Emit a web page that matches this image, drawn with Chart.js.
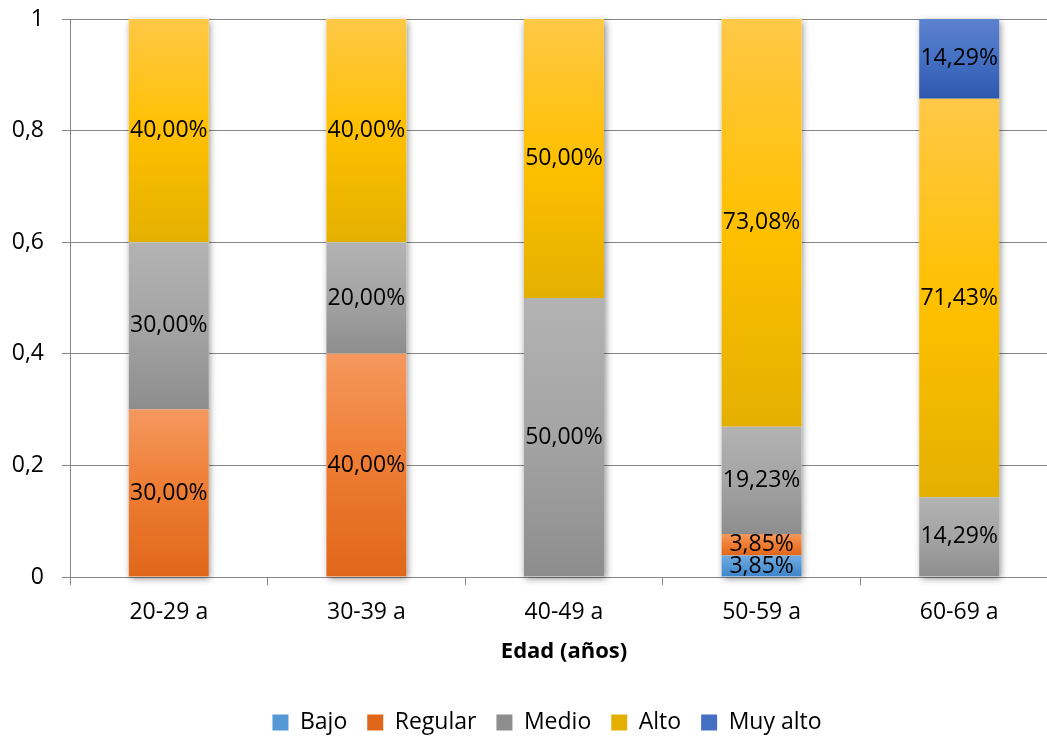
<!DOCTYPE html>
<html>
<head>
<meta charset="utf-8">
<script src="https://cdn.jsdelivr.net/npm/chart.js@4"></script>
<style>
  html, body { margin: 0; padding: 0; overflow: hidden; background: #fff; }
</style>
</head>
<body>
<canvas id="graf" width="1100" height="763"></canvas>
<script>
const edades = ['20-29 a', '30-39 a', '40-49 a', '50-59 a', '60-69 a']
const bajo = [0, 0, 0, 0.0385, 0]
const regular = [0.30, 0.40, 0, 0.0385, 0]
const medio = [0.30, 0.20, 0.50, 0.1923, 0.1429]
const alto = [0.40, 0.40, 0.50, 0.7308, 0.7143]
const muyAlto = [0, 0, 0, 0, 0.1429]
const yTicks = [0, 0.2, 0.4, 0.6, 0.8, 1]

const gris = '#868686'
const fuente = 'Open Sans'

// vertical gradient per segment: light top, base middle, darker bottom
function degradado(colores){
    return (c) => {
        const chart = c.chart
        if(c.type !== 'data' || !chart.chartArea) return colores[1]
        const y = chart.scales.y
        const i = c.dataIndex
        let inicio = 0
        for(let k=0;k<c.datasetIndex;k++){
            inicio += chart.data.datasets[k].data[i]
        }
        const fin = inicio + chart.data.datasets[c.datasetIndex].data[i]
        const top = y.getPixelForValue(fin)
        const bottom = y.getPixelForValue(inicio)
        if(!(bottom > top)) return colores[1]
        const g = chart.ctx.createLinearGradient(0, top, 0, bottom)
        g.addColorStop(0, colores[0])
        g.addColorStop(0.5, colores[1])
        g.addColorStop(1, colores[2])
        return g
    }
}

// soft shadow behind each stacked column
const sombra = {
    id: 'sombra',
    beforeDatasetsDraw(chart){
        const {ctx, scales: {y}} = chart
        const meta = chart.getDatasetMeta(0)
        ctx.save()
        ctx.shadowColor = 'rgba(0,0,0,0.45)'
        ctx.shadowBlur = 7
        ctx.shadowOffsetX = 1.5
        ctx.shadowOffsetY = 1.5
        ctx.fillStyle = '#fff'
        edades.forEach((e, i) => {
            const bar = meta.data[i]
            let total = 0
            chart.data.datasets.forEach(ds => total += ds.data[i])
            const top = y.getPixelForValue(Math.min(total, 1))
            const bottom = y.getPixelForValue(0)
            ctx.fillRect(bar.x - bar.width/2, top, bar.width, bottom - top)
        })
        ctx.restore()
    }
}

// percentage labels centred in each segment
const etiquetas = {
    id: 'etiquetas',
    afterDatasetsDraw(chart){
        const ctx = chart.ctx
        ctx.save()
        ctx.font = '23px "' + fuente + '"'
        ctx.fillStyle = '#000'
        ctx.textAlign = 'center'
        ctx.textBaseline = 'middle'
        chart.data.datasets.forEach((ds, d) => {
            chart.getDatasetMeta(d).data.forEach((bar, i) => {
                const v = ds.data[i]
                if(!v) return
                const txt = (v*100).toFixed(2).replace('.', ',') + '%'
                ctx.fillText(txt, bar.x, (bar.y + bar.base)/2)
            })
        })
        ctx.restore()
    }
}

// legend sits a little right of the plot-area centre
const moverLeyenda = {
    id: 'moverLeyenda',
    afterLayout(chart){
        chart.legend.left += 18
        chart.legend.right += 18
    }
}

const graph = document.getElementById('graf')
new Chart(graph, {
    type: 'bar',
    data: {
        labels: edades,
        datasets: [
            {label: 'Bajo', data: bajo, backgroundColor: degradado(['#72ABE1', '#5598D6', '#3E84CA'])},
            {label: 'Regular', data: regular, backgroundColor: degradado(['#F5985E', '#EE7C32', '#E0671A'])},
            {label: 'Medio', data: medio, backgroundColor: degradado(['#B3B3B3', '#A4A4A4', '#8D8D8D'])},
            {label: 'Alto', data: alto, backgroundColor: degradado(['#FFC847', '#FFC000', '#E4B000'])},
            {label: 'Muy alto', data: muyAlto, backgroundColor: degradado(['#5D82CF', '#4470C3', '#2E58AF'])}
        ]
    },
    options: {
        responsive: false,
        animation: false,
        barPercentage: 0.405,
        categoryPercentage: 1,
        layout: {padding: {left: 0, right: 42, top: 19, bottom: 19}},
        scales: {
            x: {
                stacked: true,
                grid: {drawOnChartArea: false, color: gris, tickLength: 8, offset: true},
                border: {color: gris},
                ticks: {padding: 14, color: '#000', font: {family: fuente, size: 23}},
                title: {
                    display: true,
                    text: 'Edad (años)',
                    color: '#000',
                    font: {family: fuente, size: 22, weight: 'bold'},
                    padding: {top: 0, bottom: 26}
                },
                afterFit: s => { s.height = 114 }
            },
            y: {
                stacked: true,
                min: 0,
                max: 1,
                afterBuildTicks: s => { s.ticks = yTicks.map(v => ({value: v})) },
                afterFit: s => {
                    s.width = 70
                    s.paddingTop = 0
                    s.paddingBottom = 0
                },
                grid: {color: gris, tickLength: 8},
                border: {color: gris},
                ticks: {
                    padding: 18,
                    color: '#000',
                    font: {family: fuente, size: 23},
                    callback: v => String(Math.round(v*10)/10).replace('.', ',')
                }
            }
        },
        plugins: {
            legend: {
                position: 'bottom',
                labels: {boxWidth: 16, boxHeight: 16, padding: 20, color: '#000', font: {family: fuente, size: 23}}
            },
            tooltip: {enabled: false}
        }
    },
    plugins: [sombra, etiquetas, moverLeyenda]
})
</script>
</body>
</html>
